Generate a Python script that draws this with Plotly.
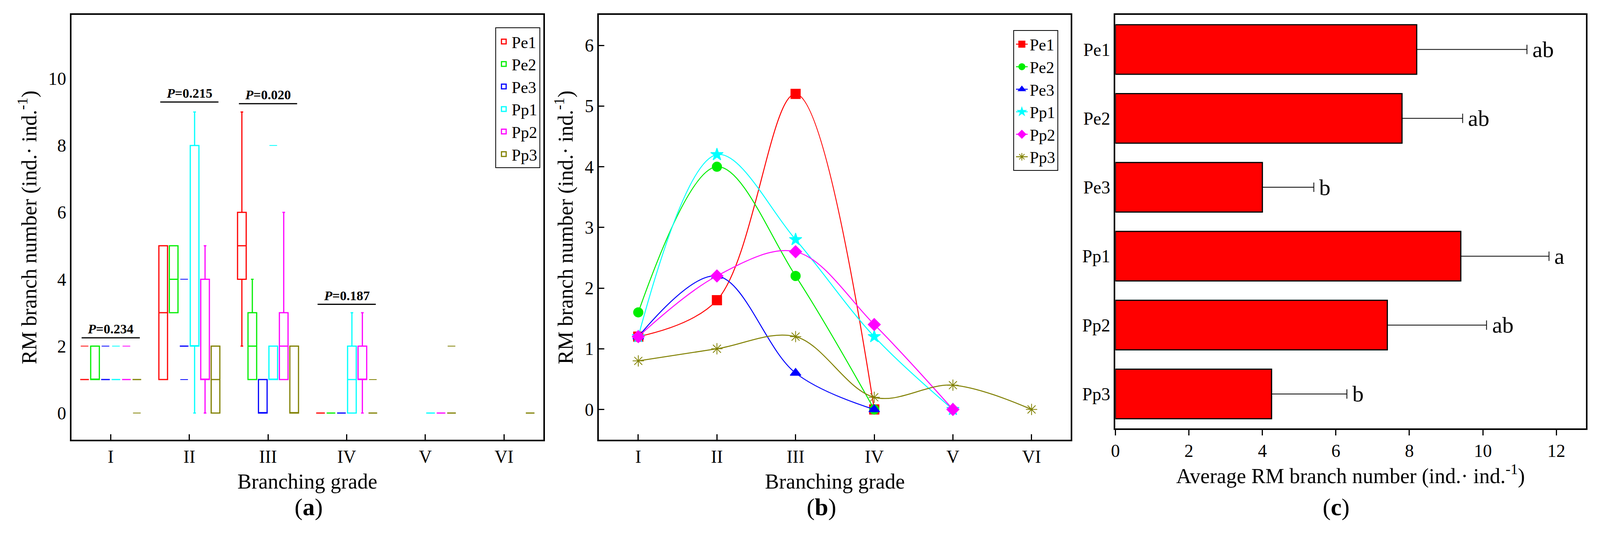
import plotly.graph_objects as go

FONT = "Liberation Serif"
grades = ["I", "II", "III", "IV", "V", "VI"]
series = ["Pe1", "Pe2", "Pe3", "Pp1", "Pp2", "Pp3"]
colors = ["#ff0000", "#00ee00", "#0000ff", "#00ffff", "#ff00ff", "#808000"]

# panel (a): box stats per series, one entry per grade (None = no box)
# (q1, median, q3, lower whisker, upper whisker)
box_pe1 = [(1, 1, 1, 1, 1), (1, 3, 5, 1, 5), (4, 5, 6, 2, 9), (0, 0, 0, 0, 0), None, None]
box_pe2 = [(1, 1, 2, 1, 2), (3, 4, 5, 3, 5), (1, 2, 3, 1, 4), (0, 0, 0, 0, 0), None, None]
box_pe3 = [(1, 1, 1, 1, 1), (2, 2, 2, 2, 2), (0, 0, 1, 0, 1), (0, 0, 0, 0, 0), None, None]
box_pp1 = [(1, 1, 1, 1, 1), (2, 2, 8, 0, 9), (1, 1, 2, 1, 2), (0, 1, 2, 0, 3), (0, 0, 0, 0, 0), None]
box_pp2 = [(1, 1, 1, 1, 1), (1, 1, 4, 0, 5), (1, 2, 3, 1, 6), (1, 1, 2, 0, 3), (0, 0, 0, 0, 0), None]
box_pp3 = [(1, 1, 1, 1, 1), (0, 1, 2, 0, 2), (0, 0, 2, 0, 2), (0, 0, 0, 0, 0), (0, 0, 0, 0, 0), (0, 0, 0, 0, 0)]
# outlier dashes: (grade index, value)
out_pe1 = [(0, 2)]
out_pe2 = []
out_pe3 = [(0, 2), (1, 4), (1, 1)]
out_pp1 = [(0, 2), (2, 8)]
out_pp2 = [(0, 2)]
out_pp3 = [(0, 0), (3, 1), (4, 2)]
p_labels = ["0.234", "0.215", "0.020", "0.187"]
p_heights = [2.25, 9.3, 9.25, 3.25]

# panel (b): mean values
mean_pe1 = [1.2, 1.8, 5.2, 0]
mean_pe2 = [1.6, 4.0, 2.2, 0]
mean_pe3 = [1.2, 2.2, 0.6, 0]
mean_pp1 = [1.2, 4.2, 2.8, 1.2, 0]
mean_pp2 = [1.2, 2.2, 2.6, 1.4, 0]
mean_pp3 = [0.8, 1.0, 1.2, 0.2, 0.4, 0]
symbols = ["square", "circle", "triangle-up", "star", "diamond", "asterisk-open"]

# panel (c): averages
avg_vals = [8.2, 7.8, 4.0, 9.4, 7.4, 4.25]
avg_err = [3.0, 1.65, 1.4, 2.4, 2.7, 2.05]
avg_letters = ["ab", "ab", "b", "a", "ab", "b"]

boxes = [box_pe1, box_pe2, box_pe3, box_pp1, box_pp2, box_pp3]
outs = [out_pe1, out_pe2, out_pe3, out_pp1, out_pp2, out_pp3]
means = [mean_pe1, mean_pe2, mean_pe3, mean_pp1, mean_pp2, mean_pp3]

fig = go.Figure()
step = 0.133
for j, name in enumerate(series):
    xs, q1, md, q3, lo, hi = [], [], [], [], [], []
    for g, st in enumerate(boxes[j]):
        if st is None:
            continue
        xs.append(g + 1 + (j - 2.5) * step)
        q1.append(st[0]); md.append(st[1]); q3.append(st[2]); lo.append(st[3]); hi.append(st[4])
    fig.add_trace(go.Box(x=xs, q1=q1, median=md, q3=q3, lowerfence=lo, upperfence=hi,
                         name=name, width=0.11, line=dict(color=colors[j], width=3),
                         fillcolor="rgba(0,0,0,0)", whiskerwidth=0.3,
                         xaxis="x", yaxis="y", legend="legend"))
    if outs[j]:
        fig.add_trace(go.Scatter(x=[g + 1 + (j - 2.5) * step for g, v in outs[j]],
                                 y=[v for g, v in outs[j]], mode="markers",
                                 marker=dict(symbol="line-ew", size=14,
                                             line=dict(color=colors[j], width=2)),
                                 showlegend=False, xaxis="x", yaxis="y"))

for j, name in enumerate(series):
    fig.add_trace(go.Scatter(x=grades[:len(means[j])], y=means[j], name=name,
                             mode="lines+markers", line=dict(color=colors[j], width=2.5, shape="spline"),
                             marker=dict(symbol=symbols[j], size=24, color=colors[j],
                                         line=dict(color=colors[j], width=2)),
                             xaxis="x2", yaxis="y2", legend="legend2"))

fig.add_trace(go.Bar(x=avg_vals, y=series, orientation="h",
                     marker=dict(color="#ff0000", line=dict(color="black", width=3)),
                     width=0.72, showlegend=False,
                     error_x=dict(type="data", array=avg_err, arrayminus=[0] * 6, color="black",
                                  thickness=2, width=12),
                     xaxis="x3", yaxis="y3"))
for v, e, t, s in zip(avg_vals, avg_err, avg_letters, series):
    fig.add_annotation(x=v + e, y=s, text=t, xref="x3", yref="y3", showarrow=False,
                       xanchor="left", xshift=12, font=dict(family=FONT, size=58, color="black"))

for k, (lab, h) in enumerate(zip(p_labels, p_heights)):
    fig.add_shape(type="line", x0=k + 1 - 0.37, x1=k + 1 + 0.37, y0=h, y1=h, xref="x", yref="y",
                  line=dict(color="black", width=3))
    fig.add_annotation(x=k + 1, y=h, text="<b><i>P</i>=" + lab + "</b>", xref="x", yref="y",
                       showarrow=False, yanchor="bottom", yshift=2, font=dict(family=FONT, size=34))

ax = dict(showline=True, linewidth=4, linecolor="black", mirror=True, showgrid=False, zeroline=False,
          tickfont=dict(family=FONT, size=46, color="black"), ticklen=14, tickwidth=3, tickcolor="black")
ytitle = "RM branch number (ind.· ind.<sup>-1</sup>)"
tfont = dict(family=FONT, size=54)
fig.update_layout(
    autosize=True, plot_bgcolor="white", paper_bgcolor="white",
    margin=dict(l=0, r=0, t=0, b=0),
    font=dict(family=FONT, color="black"),
    xaxis=dict(ax, domain=[0.040, 0.337], range=[0.5, 6.5], tickvals=list(range(1, 7)), ticktext=grades,
               ticks="inside", title=dict(text="Branching grade", font=tfont, standoff=20)),
    yaxis=dict(ax, domain=[0.194, 0.978], range=[-0.8, 11.9], tickvals=[0, 2, 4, 6, 8, 10], ticks="",
               title=dict(text=ytitle, font=tfont, standoff=14)),
    xaxis2=dict(ax, domain=[0.372, 0.669], range=[-0.5, 5.5], categoryorder="array", categoryarray=grades,
                ticks="inside", anchor="y2", title=dict(text="Branching grade", font=tfont, standoff=20)),
    yaxis2=dict(ax, domain=[0.194, 0.978], range=[-0.5, 6.5], dtick=1, ticks="inside", anchor="x2",
                title=dict(text=ytitle, font=tfont, standoff=14)),
    xaxis3=dict(ax, domain=[0.697, 0.993], range=[0, 12.8], dtick=2, ticks="outside", anchor="y3",
                title=dict(text="Average RM branch number (ind.· ind.<sup>-1</sup>)", font=tfont, standoff=10)),
    yaxis3=dict(ax, domain=[0.215, 0.978], autorange="reversed", ticks="", anchor="x3"),
    showlegend=True,
    legend=dict(x=0.335, xanchor="right", y=0.955, yanchor="top", bgcolor="white", bordercolor="black",
                borderwidth=2, font=dict(family=FONT, size=42), tracegroupgap=0),
    legend2=dict(x=0.661, xanchor="right", y=0.95, yanchor="top", bgcolor="white", bordercolor="black",
                 borderwidth=2, font=dict(family=FONT, size=42)),
)
for x, t in [(0.18, "a"), (0.512, "b"), (0.845, "c")]:
    fig.add_annotation(x=x, y=0.043, xref="paper", yref="paper", text="(<b>" + t + "</b>)", showarrow=False,
                       font=dict(family=FONT, size=62))

fig.write_html("out.html")
